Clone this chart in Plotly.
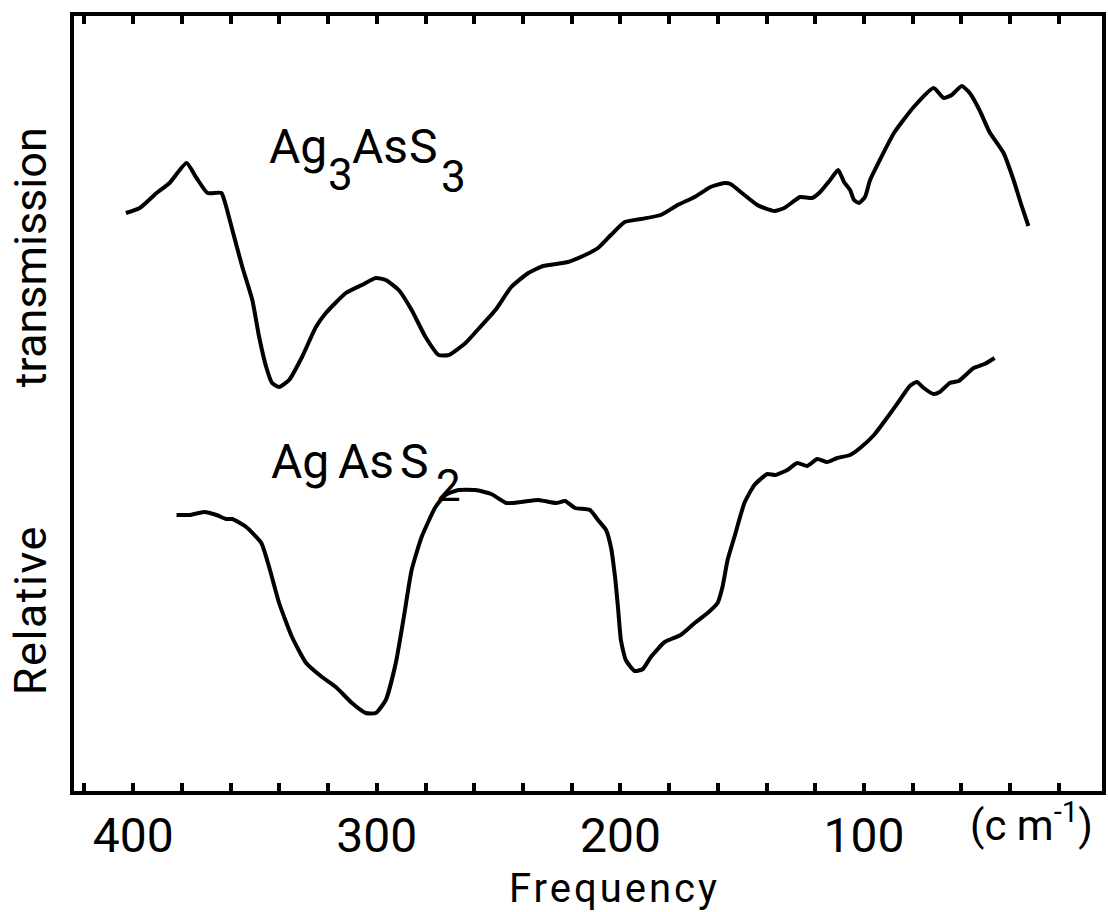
import plotly.graph_objects as go

# Far-infrared spectra, relative transmission (arbitrary units) vs wavenumber
freq_ag3ass3 = [403.0, 397.3, 390.4, 385.1, 378.1, 374.0, 369.5, 363.8, 361.8, 359.3,
                355.2, 351.1, 348.3, 345.4, 343.0, 340.1, 336.0, 330.7, 325.0, 320.9,
                312.7, 306.1, 300.4, 296.3, 291.0, 285.7, 280.0, 274.6, 270.5, 263.6,
                258.3, 251.3, 244.8, 237.8, 231.7, 221.5, 214.5, 209.2, 203.9, 198.2,
                191.6, 183.4, 176.5, 169.5, 163.0, 157.3, 154.8, 149.1, 143.8, 140.9,
                136.8, 132.7, 126.2, 121.3, 118.0, 113.9, 110.6, 108.2, 105.7, 104.1,
                102.0, 99.6, 97.5, 93.5, 87.7, 79.6, 71.4, 67.3, 64.0, 59.9,
                56.6, 52.6, 48.5, 42.7, 38.6, 35.4, 32.5]
trans_ag3ass3 = [58.2, 58.7, 60.2, 61.2, 63.2, 61.7, 60.2, 60.2, 58.8, 56.5,
                 52.8, 49.5, 45.8, 42.8, 41.2, 40.8, 41.5, 43.8, 46.8, 48.2,
                 50.2, 51.0, 51.7, 51.5, 50.5, 48.5, 45.8, 44.0, 44.0, 45.2,
                 46.6, 48.5, 50.8, 52.2, 52.9, 53.3, 54.0, 54.7, 56.0, 57.3,
                 57.6, 58.0, 59.0, 59.8, 60.8, 61.2, 61.1, 60.0, 59.0, 58.7,
                 58.4, 58.7, 59.8, 59.7, 60.3, 61.5, 62.5, 61.3, 60.5, 59.5,
                 59.2, 59.8, 61.5, 63.5, 66.2, 68.8, 70.7, 69.7, 70.0, 70.9,
                 70.2, 68.5, 66.3, 64.2, 61.5, 59.0, 56.9]

freq_agass2 = [382.2, 376.9, 370.8, 365.8, 361.8, 359.3, 353.6, 347.4, 344.2, 340.1,
               334.8, 329.0, 322.5, 316.8, 310.2, 304.5, 300.4, 296.3, 292.2, 288.9,
               285.7, 281.6, 275.9, 271.8, 266.5, 259.5, 253.0, 246.8, 240.7, 233.7,
               226.4, 222.7, 218.6, 212.5, 209.2, 205.9, 203.9, 202.2, 201.0, 199.8,
               197.8, 194.1, 190.8, 187.5, 181.8, 175.3, 169.5, 164.2, 160.1, 158.1,
               156.0, 153.2, 149.1, 145.0, 139.7, 136.4, 131.5, 127.4, 123.3, 119.2,
               115.1, 111.0, 105.7, 101.6, 95.9, 90.6, 85.3, 81.2, 78.3, 75.5,
               71.4, 68.9, 64.8, 61.1, 55.0, 50.5, 46.4]
trans_agass2 = [28.0, 28.0, 28.3, 28.0, 27.6, 27.6, 26.8, 25.2, 22.8, 19.2,
                15.8, 13.2, 11.8, 10.8, 9.2, 8.2, 8.2, 9.5, 13.2, 17.8,
                22.5, 25.8, 28.8, 30.0, 30.5, 30.5, 30.1, 29.2, 29.3, 29.5,
                29.2, 29.4, 28.7, 28.5, 27.5, 26.5, 24.8, 21.8, 18.8, 15.5,
                13.5, 12.4, 12.6, 13.8, 15.3, 16.0, 17.2, 18.2, 19.2, 20.8,
                23.5, 25.8, 29.2, 31.0, 32.1, 32.0, 32.5, 33.2, 32.9, 33.6,
                33.3, 33.7, 34.0, 34.7, 36.0, 37.7, 39.5, 40.9, 41.3, 40.7,
                40.1, 40.3, 41.2, 41.4, 42.7, 43.1, 43.7]

# ticks every 20 cm-1, labelled every 100 cm-1
tick_vals = [420, 400, 380, 360, 340, 320, 300, 280, 260, 240, 220,
             200, 180, 160, 140, 120, 100, 80, 60, 40, 20]
tick_text = ["", "400", "", "", "", "", "300", "", "", "", "",
             "200", "", "", "", "", "100", "", "", "", ""]

FONT = "Roboto, Liberation Sans, sans-serif"
INK = "#000000"
X_RANGE = [424.3, 2.3]

# plot area in pixels (used to place free text in paper coordinates)
L, R, T, B = 74, 1106, 16, 791


def px(x, y):
    return (x - L) / (R - L), (B - y) / (B - T)


fig = go.Figure()
line_style = dict(color=INK, width=4, shape="spline", smoothing=0.5)
fig.add_trace(go.Scatter(x=freq_ag3ass3, y=trans_ag3ass3, mode="lines",
                         line=line_style, name="Ag3AsS3", hoverinfo="skip"))
fig.add_trace(go.Scatter(x=freq_agass2, y=trans_agass2, mode="lines",
                         line=line_style, name="AgAsS2", hoverinfo="skip"))

fig.update_layout(
    width=1108, height=912,
    margin=dict(l=L, r=1108 - R, t=T, b=912 - B),
    paper_bgcolor="white", plot_bgcolor="white",
    showlegend=False,
    font=dict(family=FONT, color=INK),
    xaxis=dict(
        range=X_RANGE, autorange=False,
        showgrid=False, zeroline=False,
        showline=True, linecolor=INK, linewidth=3.5, mirror="ticks",
        ticks="inside", ticklen=8, tickwidth=4, tickcolor=INK,
        tickmode="array", tickvals=tick_vals, ticktext=tick_text,
        tickfont=dict(family=FONT, size=48, color=INK),
    ),
    yaxis=dict(
        range=[0.4, 77.9], autorange=False,
        showgrid=False, zeroline=False,
        showline=True, linecolor=INK, linewidth=3.5, mirror=True,
        showticklabels=False, ticks="",
    ),
)

texts = [
    # (text, x px, y px, angle, size, anchor)
    ('<span style="letter-spacing:1.5px">Relative</span>', 30, 610, -90, 45, "center"),
    ("transmission", 30, 257, -90, 45, "center"),
    ('<span style="letter-spacing:3px">Frequency</span>', 617, 888, 0, 40, "center"),
    ("(c m<sup>-1</sup>)", 1035, 822, 0, 42, "center"),
    # Ag3AsS3 label with large, dropped subscripts
    ("Ag", 268, 146, 0, 48, "left"),
    ("3", 327, 175, 0, 44, "left"),
    ("As", 351, 146, 0, 48, "left"),
    ("S", 408, 146, 0, 48, "left"),
    ("3", 440, 177, 0, 44, "left"),
    # AgAsS2 label
    ("Ag", 270, 462, 0, 48, "left"),
    ("As", 337, 462, 0, 48, "left"),
    ("S", 399, 462, 0, 48, "left"),
    ("2", 435, 486, 0, 44, "left"),
]
for text, x, y, ang, size, anchor in texts:
    xp, yp = px(x, y)
    fig.add_annotation(
        text=text, xref="paper", yref="paper", x=xp, y=yp,
        xanchor=anchor, yanchor="middle", textangle=ang,
        showarrow=False, font=dict(family=FONT, size=size, color=INK),
    )

fig.write_html("out.html")
